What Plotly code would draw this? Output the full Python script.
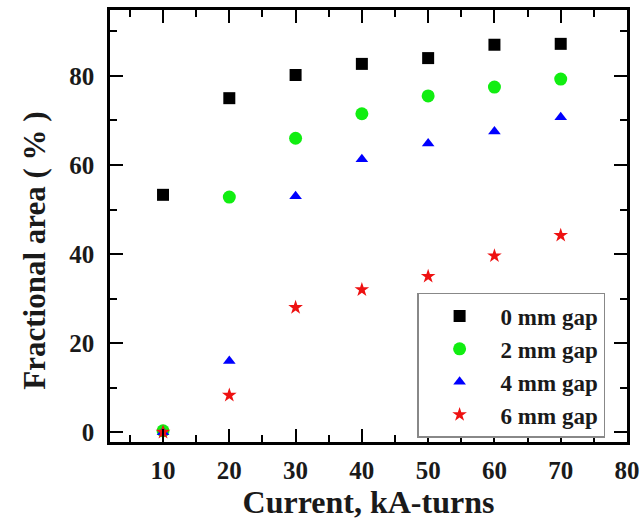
import plotly.graph_objects as go

# Coil current (kA-turns) and the measured fractional area for each gap width
current = [10, 20, 30, 40, 50, 60, 70]
gap_0mm = [53.3, 75.0, 80.2, 82.7, 84.0, 87.0, 87.2]
gap_2mm = [0.3, 52.8, 66.0, 71.5, 75.5, 77.5, 79.3]
gap_4mm = [0.0, 16.0, 53.0, 61.3, 64.8, 67.5, 70.7]
gap_6mm = [0.0, 8.3, 28.0, 32.0, 35.0, 39.6, 44.2]

series = [
    ("0 mm gap", gap_0mm, "square", "#000000", 12),
    ("2 mm gap", gap_2mm, "circle", "#11ee11", 13),
    ("4 mm gap", gap_4mm, "triangle-up", "#0000ff", 11),
    ("6 mm gap", gap_6mm, "star", "#ee1111", 11),
]

serif = "Liberation Serif, Times New Roman, serif"
ink = "#1a1a1a"

fig = go.Figure()
for name, vals, sym, col, size in series:
    fig.add_trace(go.Scatter(
        x=current, y=vals, mode="markers", name=name,
        marker=dict(symbol=sym, color=col, size=size, line=dict(width=0)),
    ))

axis_common = dict(
    showline=True, linewidth=2.5, linecolor="black", mirror="ticks",
    ticks="inside", ticklen=13, tickwidth=2, tickcolor="black",
    showgrid=False, zeroline=False, automargin=False,
    tickfont=dict(family=serif, size=25, color=ink, weight="bold"),
)

fig.update_xaxes(
    **axis_common,
    range=[2, 80], dtick=10, tick0=0,
    minor=dict(dtick=5, ticks="inside", ticklen=7, tickwidth=2, tickcolor="black"),
    ticklabelstandoff=4,
    title=dict(text="Current, kA-turns", standoff=10,
               font=dict(family=serif, size=32, color=ink, weight="bold")),
)
fig.update_yaxes(
    **axis_common,
    range=[-2.2, 94.8], dtick=20, tick0=0,
    minor=dict(dtick=10, ticks="inside", ticklen=7, tickwidth=2, tickcolor="black"),
    ticklabelstandoff=8,
)

# y-axis title placed as a rotated annotation, centred a little below mid-axis
fig.add_annotation(
    text="Fractional area ( % )", textangle=-90,
    xref="paper", yref="paper", x=-0.145, y=0.443,
    xanchor="center", yanchor="middle", showarrow=False,
    font=dict(family=serif, size=31, color=ink, weight="bold"),
)

fig.update_layout(
    width=640, height=520,
    margin=dict(l=110, r=13, t=10, b=78),
    paper_bgcolor="white", plot_bgcolor="white",
    showlegend=True,
    legend=dict(
        x=0.594, y=0.345, xanchor="left", yanchor="top",
        bgcolor="white", bordercolor="#888", borderwidth=1.5,
        font=dict(family=serif, size=23, color=ink, weight="bold"),
        itemwidth=72, tracegroupgap=0,
    ),
)

fig.write_html("out.html")
